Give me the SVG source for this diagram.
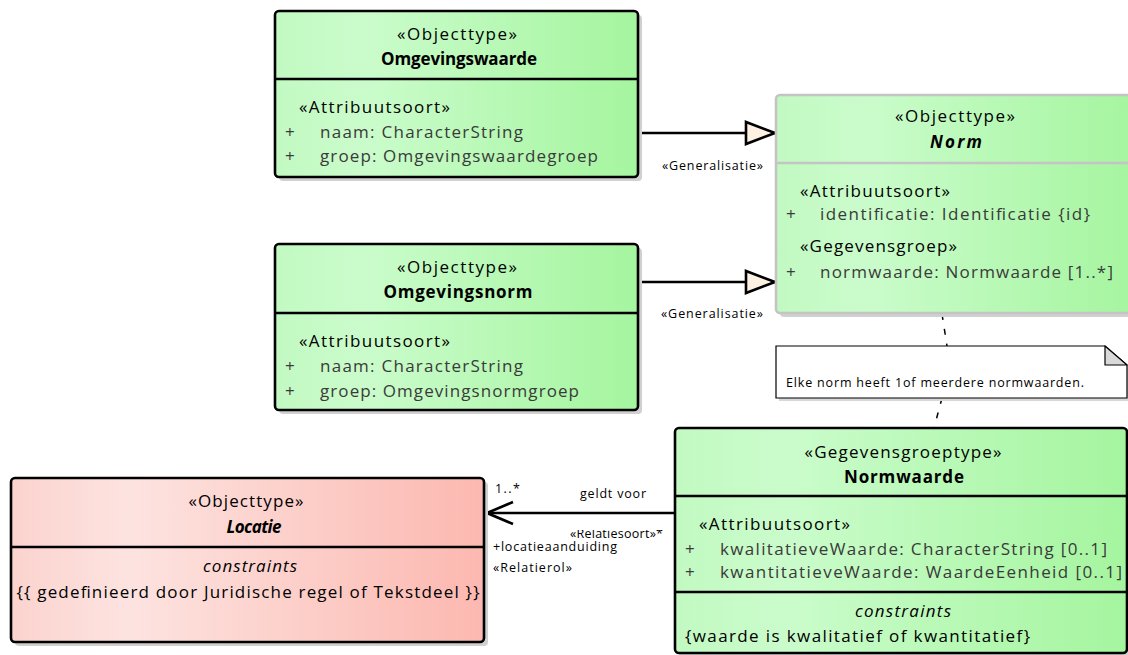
<svg xmlns="http://www.w3.org/2000/svg" width="1128" height="655" viewBox="0 0 1128 655">
<style>
text{font-family:"Open Sans","Liberation Sans",sans-serif;fill:#000}
.t{font-size:17px}
.b{font-size:17px;font-weight:bold}
.bi{font-size:17px;font-weight:bold;font-style:italic}
.i{font-size:17px;font-style:italic}
.a{font-size:17px;fill:#3a3a3a}
.s{font-size:12.5px}
.box{stroke:#000;stroke-width:2.6}
.gbox{stroke:#c4c4c4;stroke-width:2.6}
.div{stroke:#000;stroke-width:2.6}
.gdiv{stroke:#c4c4c4;stroke-width:2.6}
.sh{fill:#d0d0d0}
.line{stroke:#000;stroke-width:2.6;fill:none}
.dash{stroke:#000;stroke-width:1.5;fill:none;stroke-dasharray:6 9}
</style>
<defs>
<linearGradient id="green" x1="0" y1="0" x2="1" y2="0">
<stop offset="0" stop-color="#c2f9c2"/>
<stop offset="0.25" stop-color="#cafccb"/>
<stop offset="1" stop-color="#a5f59f"/>
</linearGradient>
<linearGradient id="pink" x1="0" y1="0" x2="1" y2="0">
<stop offset="0" stop-color="#fbd3ce"/>
<stop offset="0.25" stop-color="#fde3e0"/>
<stop offset="1" stop-color="#fcb8b0"/>
</linearGradient>
<marker id="gen" markerUnits="userSpaceOnUse" markerWidth="34" markerHeight="26" refX="31" refY="13" orient="auto">
<path d="M2,2 L31,13 L2,24 Z" fill="#fdf1e4" stroke="#000" stroke-width="2.6" stroke-linejoin="miter"/>
</marker>
<marker id="open" markerUnits="userSpaceOnUse" markerWidth="32" markerHeight="28" refX="29" refY="14" orient="auto">
<path d="M3,3 L29,14 L3,25" fill="none" stroke="#000" stroke-width="2.6"/>
</marker>
<clipPath id="relclip"><rect x="560" y="530" width="120" height="20"/></clipPath>
</defs>

<g id="connectors">
<path class="line" d="M638,133 L775,133" marker-end="url(#gen)"/>
<path class="line" d="M638,282 L775,282" marker-end="url(#gen)"/>
<path class="line" d="M675,513 L487,513" marker-end="url(#open)"/>
<path class="dash" d="M942,314 L947,346"/>
<path class="dash" d="M942,398 L934,428"/>
<text class="s" x="662" y="170" textLength="101">«Generalisatie»</text>
<text class="s" x="661" y="318" textLength="102">«Generalisatie»</text>
<text class="s" x="495" y="493" textLength="25">1..*</text>
<text class="s" x="580" y="498" textLength="66">geldt voor</text>
<text class="s" x="570" y="538" textLength="93" clip-path="url(#relclip)">«Relatiesoort»*</text>
<text class="s" x="493" y="551" textLength="124">+locatieaanduiding</text>
<text class="s" x="493" y="572" textLength="79">«Relatierol»</text>
</g>

<g id="omgevingswaarde">
<rect class="sh" x="279" y="15" width="363" height="166" rx="4"/>
<rect class="box" x="275" y="11" width="363" height="166" rx="4" fill="url(#green)"/>
<line class="div" x1="275" y1="79" x2="638" y2="79"/>
<text class="t" x="457" y="40" text-anchor="middle" textLength="120">«Objecttype»</text>
<text class="b" x="459" y="65" text-anchor="middle" textLength="156">Omgevingswaarde</text>
<text class="t" x="299" y="113" textLength="151">«Attribuutsoort»</text>
<text class="a" x="285" y="138">+</text>
<text class="a" x="320" y="138" textLength="203">naam: CharacterString</text>
<text class="a" x="285" y="162">+</text>
<text class="a" x="320" y="162" textLength="278">groep: Omgevingswaardegroep</text>
</g>

<g id="omgevingsnorm">
<rect class="sh" x="279" y="248" width="363" height="166" rx="4"/>
<rect class="box" x="275" y="244" width="363" height="166" rx="4" fill="url(#green)"/>
<line class="div" x1="275" y1="313" x2="638" y2="313"/>
<text class="t" x="457" y="273" text-anchor="middle" textLength="120">«Objecttype»</text>
<text class="b" x="458" y="298" text-anchor="middle" textLength="149">Omgevingsnorm</text>
<text class="t" x="299" y="347" textLength="151">«Attribuutsoort»</text>
<text class="a" x="285" y="372">+</text>
<text class="a" x="320" y="372" textLength="203">naam: CharacterString</text>
<text class="a" x="285" y="397">+</text>
<text class="a" x="320" y="397" textLength="259">groep: Omgevingsnormgroep</text>
</g>

<g id="norm">
<rect class="sh" x="780" y="99" width="360" height="218" rx="4"/>
<rect class="gbox" x="776" y="95" width="360" height="218" rx="4" fill="url(#green)"/>
<line class="gdiv" x1="776" y1="163" x2="1136" y2="163"/>
<text class="t" x="955" y="122" text-anchor="middle" textLength="120">«Objecttype»</text>
<text class="bi" x="956" y="148" text-anchor="middle" textLength="52">Norm</text>
<text class="t" x="800" y="197" textLength="150">«Attribuutsoort»</text>
<text class="a" x="786" y="220">+</text>
<text class="a" x="820" y="220" textLength="270">identificatie: Identificatie {id}</text>
<text class="t" x="800" y="252" textLength="157">«Gegevensgroep»</text>
<text class="a" x="786" y="278">+</text>
<text class="a" x="820" y="278" textLength="293">normwaarde: Normwaarde [1..*]</text>
</g>

<g id="note">
<path d="M779,349 L1108,349 L1130,368 L1130,401 L779,401 Z" fill="#d8d8d8"/>
<path d="M776,346 L1105,346 L1127,365 L1127,398 L776,398 Z" fill="#fff" stroke="#000" stroke-width="1.2"/>
<path d="M1105,346 L1105,365 L1127,365 Z" fill="#d9d9d9" stroke="#000" stroke-width="1.2" stroke-linejoin="round"/>
<text class="s" x="786" y="387" textLength="298">Elke norm heeft 1of meerdere normwaarden.</text>
</g>

<g id="normwaarde">
<rect class="sh" x="679" y="432" width="452" height="225" rx="4"/>
<rect class="box" x="675" y="428" width="452" height="225" rx="4" fill="url(#green)"/>
<line class="div" x1="675" y1="496" x2="1127" y2="496"/>
<line class="div" x1="675" y1="592" x2="1127" y2="592"/>
<text class="t" x="903" y="458" text-anchor="middle" textLength="197">«Gegevensgroeptype»</text>
<text class="b" x="904" y="483" text-anchor="middle" textLength="120">Normwaarde</text>
<text class="t" x="699" y="530" textLength="151">«Attribuutsoort»</text>
<text class="a" x="685" y="555">+</text>
<text class="a" x="720" y="555" textLength="387">kwalitatieveWaarde: CharacterString [0..1]</text>
<text class="a" x="685" y="578">+</text>
<text class="a" x="720" y="578" textLength="402">kwantitatieveWaarde: WaardeEenheid [0..1]</text>
<text class="i" x="903" y="617" text-anchor="middle" textLength="96">constraints</text>
<text class="t" x="685" y="642" textLength="345">{waarde is kwalitatief of kwantitatief}</text>
</g>

<g id="locatie">
<rect class="sh" x="15" y="482" width="473" height="164" rx="4"/>
<rect class="box" x="11" y="478" width="473" height="164" rx="4" fill="url(#pink)"/>
<line class="div" x1="11" y1="547" x2="484" y2="547"/>
<text class="t" x="246" y="507" text-anchor="middle" textLength="115">«Objecttype»</text>
<text class="bi" x="254" y="533" text-anchor="middle" textLength="55">Locatie</text>
<text class="i" x="250" y="572" text-anchor="middle" textLength="94">constraints</text>
<text class="t" x="248" y="598" text-anchor="middle" textLength="463">{{ gedefinieerd door Juridische regel of Tekstdeel }}</text>
</g>
</svg>
